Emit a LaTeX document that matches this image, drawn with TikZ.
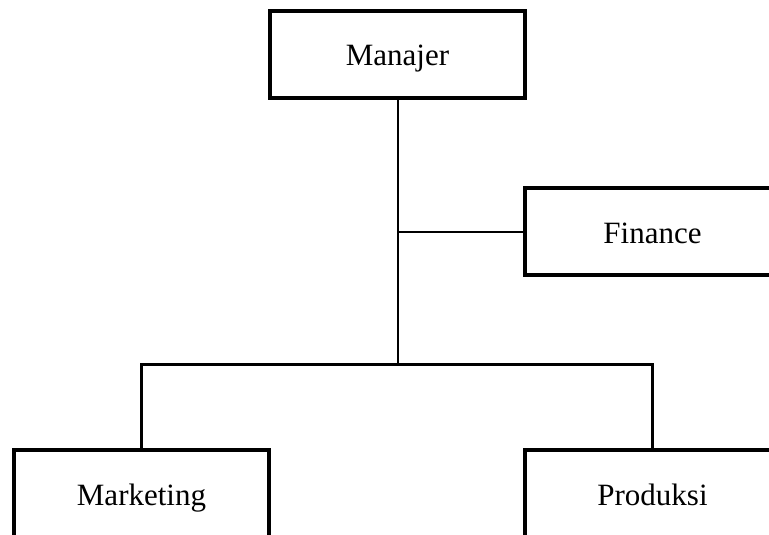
\documentclass[tikz,border=0pt]{standalone}
\usepackage{fontspec}
\setmainfont{Liberation Serif}

\begin{document}
\begin{tikzpicture}[
				x=1pt, y=-1pt,
				jabatan/.style={draw, rectangle, line width=4.5pt, minimum width=255pt, minimum height=87pt, text height=30pt, text depth=7pt, font=\fontsize{31}{36}\selectfont},
				garis/.style={line width=2pt},
				garis tebal/.style={line width=3pt}
				]
				\useasboundingbox (0,0) rectangle (769,535);
				\clip (0,0) rectangle (769,535);
				\node[jabatan] (manajer) at (397.5,54.5) {Manajer};
				\node[jabatan] (finance) at (652.5,231.5) {Finance};
				\node[jabatan] (marketing) at (141.5,493.5) {Marketing};
				\node[jabatan] (produksi) at (652.5,493.5) {Produksi};
				\coordinate (cabang) at (397.5,364);
				\coordinate (ke finance) at (manajer.south |- finance.west);
				\draw[garis] (manajer) -- (cabang);
				\draw[garis] (ke finance) -- (finance);
				\draw[garis tebal] (marketing) |- (cabang) -| (produksi);
			\end{tikzpicture}
\end{document}
